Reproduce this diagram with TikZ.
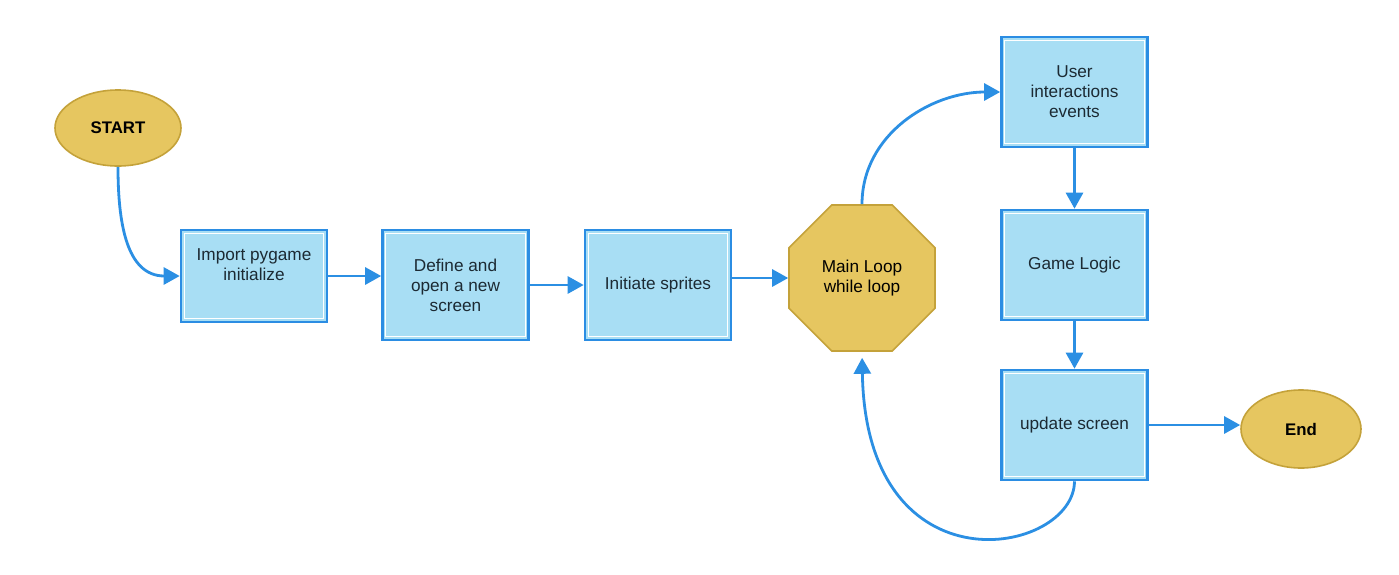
\documentclass[tikz,border=0pt]{standalone}
\usepackage{fontspec}
\setmainfont{Liberation Sans}
\usetikzlibrary{shapes.geometric,arrows.meta}
\definecolor{boxfill}{HTML}{A8DEF4}
\definecolor{boxline}{HTML}{2B8DE3}
\definecolor{goldfill}{HTML}{E6C660}
\definecolor{goldline}{HTML}{C4A23A}
\definecolor{arrcol}{HTML}{2B8FE3}
\definecolor{txt}{HTML}{1C2A33}
\tikzset{
  stepbox/.style={draw=boxline, line width=1.3pt, fill=boxfill, rectangle,
    minimum width=73pt, minimum height=55pt, inner sep=2pt, align=center,
    text=txt, font=\fontsize{8.6}{10}\selectfont,
    path picture={\draw[white,line width=0.6pt]
      ([shift={(1.6pt,-1.6pt)}]path picture bounding box.north west) rectangle
      ([shift={(-1.6pt,1.6pt)}]path picture bounding box.south east);}},
  term/.style={ellipse, draw=goldline, line width=0.8pt, fill=goldfill,
    font=\bfseries\fontsize{8.4}{10}\selectfont, text=black},
  octo/.style={regular polygon, regular polygon sides=8, draw=goldline,
    line width=0.8pt, fill=goldfill, inner sep=0pt, minimum size=79pt,
    align=center, font=\fontsize{8.6}{10}\selectfont, text=black},
  arr/.style={draw=arrcol, line width=1.4pt, -{Triangle[length=8pt,width=8.5pt]}}
}
\begin{document}
\begin{tikzpicture}[x=0.5pt,y=-0.5pt]
\useasboundingbox (0,0) rectangle (1399,574);
\node[term, minimum width=63pt, minimum height=38pt] (start) at (118,128) {START};
\node[stepbox, minimum height=46pt] (b1) at (254,276) {Import pygame\\initialize\\[-2pt]\strut};
\node[stepbox] (b2) at (455.5,285) {Define and\\open a new\\screen};
\node[stepbox] (b3) at (658,285) {Initiate sprites};
\node[octo] (oct) at (862,278) {Main Loop\\while loop};
\node[stepbox] (b4) at (1074.5,92) {User\\interactions\\events};
\node[stepbox] (b5) at (1074.5,265) {Game Logic};
\node[stepbox] (b6) at (1074.5,425) {update screen};
\node[term, minimum width=60pt, minimum height=39pt] (end) at (1301,429) {End};

\draw[arr] (start.south) to[out=-90,in=180,looseness=1.1] (b1.west);
\draw[arr] (b1.east) -- (b1.east -| b2.west);
\draw[arr] (b2.east) -- (b2.east -| b3.west);
\draw[arr] (b3.east |- oct.west) -- (oct.west);
\draw[arr] (oct.north) to[out=90,in=180] (b4.west);
\draw[arr] (b4.south) -- (b5.north);
\draw[arr] (b5.south) -- (b6.north);
\draw[arr] (b6.east) -- (b6.east -| end.west);
\draw[arr, shorten >=3pt] (b6.south) .. controls (1074,555) and (866,595) .. (oct.south);
\end{tikzpicture}
\end{document}
